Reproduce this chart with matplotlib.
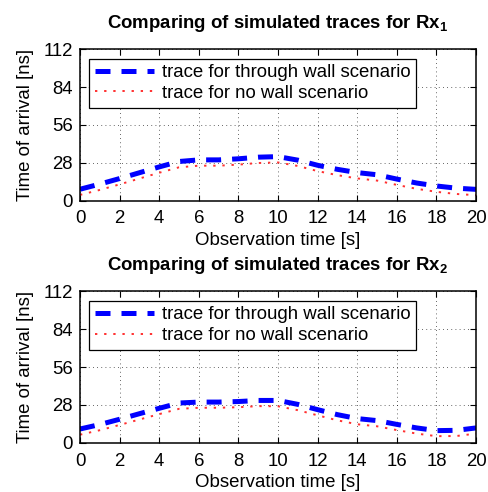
import matplotlib
matplotlib.use('Agg')
import matplotlib.pyplot as plt
import numpy as np

plt.rcParams['font.family'] = ['Liberation Sans', 'DejaVu Sans']
plt.rcParams['mathtext.fontset'] = 'custom'
plt.rcParams['mathtext.bf'] = 'Liberation Sans:bold'
plt.rcParams['mathtext.rm'] = 'Liberation Sans'

# observation time [s]
t = np.arange(0, 21)

# Rx1 time of arrival [ns]
rx1_wall = [8.5, 12.3, 16.4, 20.7, 25.0, 29.0, 30.2, 30.2, 31.0, 32.2, 32.6,
            30.0, 26.2, 23.2, 20.8, 19.2, 16.0, 13.1, 10.9, 9.3, 8.4]
rx1_nowall = [4.3, 8.0, 12.1, 16.4, 20.7, 24.7, 25.9, 25.9, 26.7, 27.9, 28.3,
              25.7, 21.9, 18.9, 16.5, 14.9, 11.7, 8.8, 6.6, 5.0, 4.1]

# Rx2 time of arrival [ns]
rx2_wall = [10.2, 13.5, 17.4, 21.5, 25.5, 29.4, 30.1, 30.1, 30.5, 31.3, 31.3,
            28.4, 24.5, 20.8, 17.9, 16.4, 13.6, 11.0, 9.0, 9.2, 11.0]
rx2_nowall = [6.0, 9.3, 13.2, 17.2, 21.2, 25.1, 25.9, 25.9, 26.3, 27.1, 27.0,
              24.1, 20.3, 16.6, 13.7, 12.2, 9.4, 6.8, 4.9, 5.0, 6.8]

xticks = np.arange(0, 21, 2)
yticks = [0, 28, 56, 84, 112]
fs = 13.4

fig = plt.figure(figsize=(4.89, 4.92), dpi=100)
ax1 = fig.add_axes([0.1636, 0.592, 0.810, 0.308])
ax2 = fig.add_axes([0.1636, 0.100, 0.810, 0.308])

for ax, wall, nowall, sub in [(ax1, rx1_wall, rx1_nowall, '1'),
                              (ax2, rx2_wall, rx2_nowall, '2')]:
    ax.plot(t, wall, color='blue', lw=3.6, dashes=(3.0, 2.2),
            dash_capstyle='butt', label='trace for through wall scenario')
    ax.plot(t, nowall, color='#ff3030', lw=1.4, dashes=(1.2, 3.5),
            label='trace for no wall scenario')
    ax.set_xlim(0, 20)
    ax.set_ylim(0, 112)
    ax.set_xticks(xticks)
    ax.set_yticks(yticks)
    ax.tick_params(direction='in', length=4, width=0.8, labelsize=fs,
                   top=True, right=True, pad=5)
    ax.tick_params(axis='x', pad=7)
    ax.grid(True, color='black', linestyle=(0, (1, 4)), lw=0.6, alpha=0.8)
    for s in ax.spines.values():
        s.set_linewidth(1.1)
    ax.set_xlabel('Observation time [s]', fontsize=fs, labelpad=3)
    ax.set_ylabel('Time of arrival [ns]', fontsize=fs, labelpad=7)
    ax.set_title(r'Comparing of simulated traces for Rx$\mathbf{_%s}$' % sub,
                 fontsize=fs, fontweight='bold', pad=15)
    leg = ax.legend(loc='upper left', bbox_to_anchor=(0.023, 0.938),
                    borderaxespad=0, fontsize=fs, handlelength=3.2,
                    fancybox=False, framealpha=1, edgecolor='black',
                    labelspacing=0.2, borderpad=0.3, handletextpad=0.4)
    leg.get_frame().set_linewidth(0.9)

fig.savefig('out.png', dpi=100)
